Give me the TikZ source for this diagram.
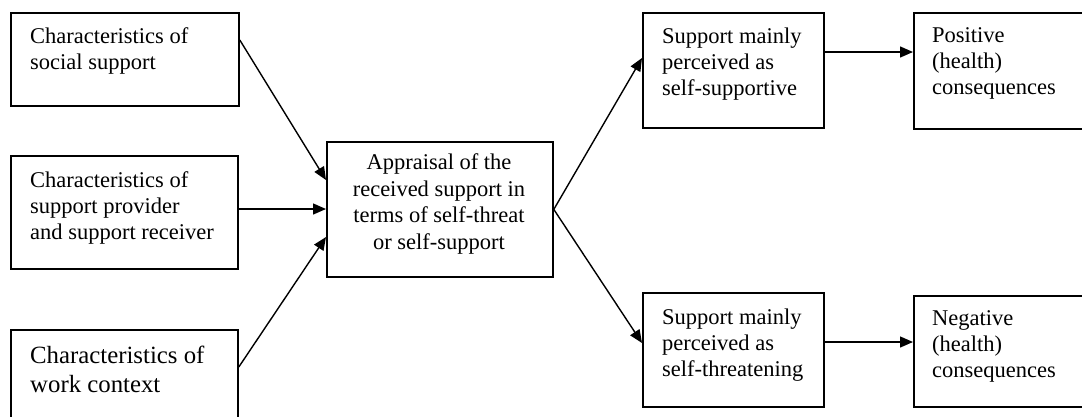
\documentclass[tikz,border=0pt]{standalone}
\usepackage{fontspec}
\setmainfont{Liberation Serif}
\usetikzlibrary{arrows.meta}
\begin{document}
\begin{tikzpicture}[x=1pt,y=-1pt,
  box/.style={draw, line width=1.8pt, inner sep=0pt, anchor=north west},
  txt/.style={inner sep=0pt, align=left, anchor=north west, font=\fontsize{22.5}{26}\selectfont},
  bigtxt/.style={inner sep=0pt, align=left, anchor=north west, font=\fontsize{24.8}{29}\selectfont},
  ctxt/.style={inner sep=0pt, align=center, anchor=north, font=\fontsize{22.5}{26.5}\selectfont},
  arr/.style={line width=1.4pt, -{Triangle[length=13pt,width=11pt]}}]
\useasboundingbox (0,0) rectangle (1082,416);
\clip (0,0) rectangle (1082,416);
% boxes
\node[box, minimum width=228pt, minimum height=93pt] (b1) at (10,12) {};
\node[box, minimum width=227pt, minimum height=113pt] (b2) at (10,155) {};
\node[box, minimum width=227pt, minimum height=100pt] (b3) at (10,329) {};
\node[box, minimum width=226pt, minimum height=135pt] (c) at (326,141) {};
\node[box, minimum width=181pt, minimum height=115pt] (s) at (642,12) {};
\node[box, minimum width=180pt, minimum height=116pt] (p) at (913,12) {};
\node[box, minimum width=181pt, minimum height=114pt] (t) at (642,292) {};
\node[box, minimum width=180pt, minimum height=111pt] (n) at (913,295) {};
% texts
\node[txt] (t1) at (30,27.6) {Characteristics of\\social support};
\node[txt] (t2) at (30,171.6) {Characteristics of\\support provider\\and support receiver};
\node[bigtxt] (t3) at (30,346) {Characteristics of\\work context};
\node[ctxt] (tc) at (439,153.6) {Appraisal of the\\received support in\\terms of self-threat\\or self-support};
\node[txt] (ts) at (662,27.6) {Support mainly\\perceived as\\self-supportive};
\node[txt] (tp) at (932,27.6) {Positive\\(health)\\consequences};
\node[txt] (tt) at (662,308.6) {Support mainly\\perceived as\\self-threatening};
\node[txt] (tn) at (932,310.6) {Negative\\(health)\\consequences};
% arrows
\draw[arr] (b1.east |- 0,40) -- (c.west |- 0,180);
\draw[arr] (b2.east |- 0,209) -- (c.west |- 0,209);
\draw[arr] (b3.east |- 0,367) -- (c.west |- 0,237);
\draw[arr] (c.east) -- (s.west |- 0,58);
\draw[arr] (c.east) -- (t.west |- 0,343);
\draw[arr] (s.east |- 0,52) -- (p.west |- 0,52);
\draw[arr] (t.east |- 0,342) -- (n.west |- 0,342);
\end{tikzpicture}
\end{document}
